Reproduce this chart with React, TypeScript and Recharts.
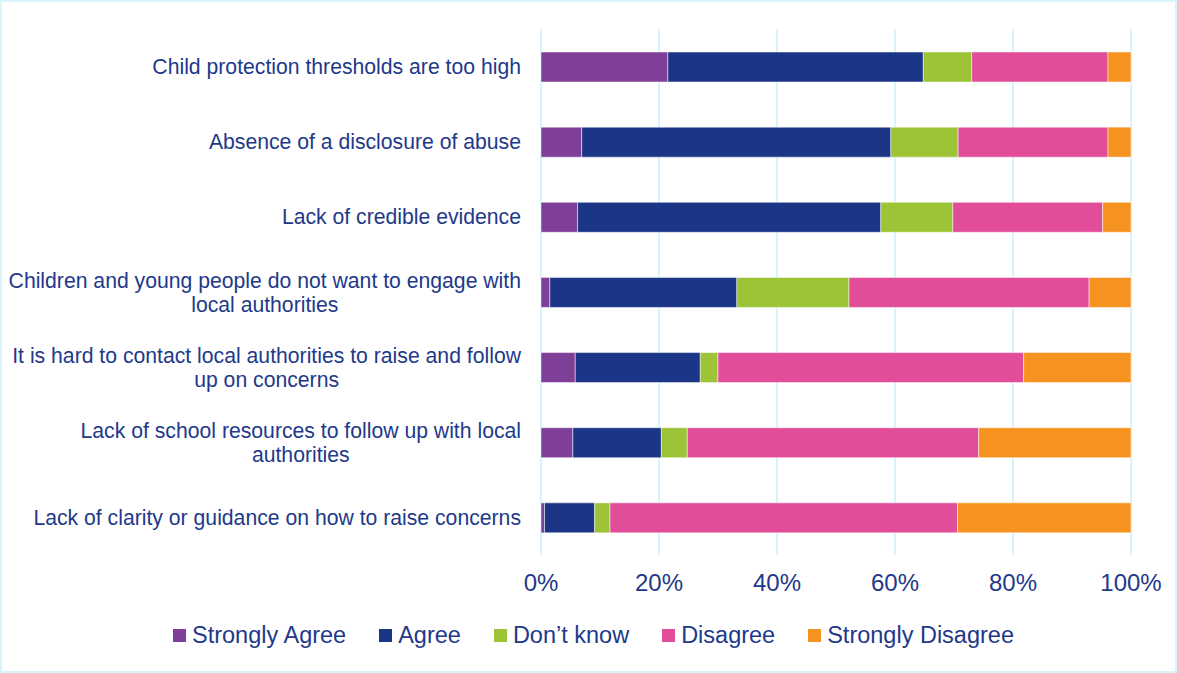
import React from 'react';
import { BarChart, Bar, XAxis, YAxis, CartesianGrid, Legend } from 'recharts';

const categories = [
  'Child protection thresholds are too high',
  'Absence of a disclosure of abuse',
  'Lack of credible evidence',
  'Children and young people do not want to engage with\nlocal authorities',
  'It is hard to contact local authorities to raise and follow\nup on concerns',
  'Lack of school resources to follow up with local\nauthorities',
  'Lack of clarity or guidance on how to raise concerns',
];

const stronglyAgree = [21.5, 6.9, 6.2, 1.5, 5.8, 5.4, 0.6];
const agree = [43.3, 52.4, 51.4, 31.7, 21.2, 15.0, 8.5];
const dontKnow = [8.2, 11.4, 12.2, 19.0, 3.0, 4.4, 2.6];
const disagree = [23.1, 25.4, 25.4, 40.7, 51.8, 49.4, 58.9];
const stronglyDisagree = [3.9, 3.9, 4.8, 7.1, 18.2, 25.8, 29.4];

const xTicks = [0, 20, 40, 60, 80, 100];

const SERIES = [
  { key: 'sa', name: 'Strongly Agree', color: '#7f3f98' },
  { key: 'a', name: 'Agree', color: '#1c3687' },
  { key: 'dk', name: 'Don\u2019t know', color: '#9dc436' },
  { key: 'd', name: 'Disagree', color: '#e24d9a' },
  { key: 'sd', name: 'Strongly Disagree', color: '#f6921f' },
];

const TEXT = '#22398a';
const FONT = "'Liberation Sans', Arial, sans-serif";
const LABEL_SIZE = 21.2;

const data = categories.map((c, i) => ({
  name: c,
  sa: stronglyAgree[i],
  a: agree[i],
  dk: dontKnow[i],
  d: disagree[i],
  sd: stronglyDisagree[i],
}));

let ctx: CanvasRenderingContext2D | null = null;
function measure(s: string) {
  if (!ctx) ctx = document.createElement('canvas').getContext('2d');
  if (!ctx) return s.length * LABEL_SIZE * 0.5;
  ctx.font = `${LABEL_SIZE}px ${FONT}`;
  return ctx.measureText(s).width;
}

// wrapped labels: block right-aligned, lines centred inside it
function CategoryTick(props: any) {
  const { x, y, payload } = props;
  const lines: string[] = String(payload.value).split('\n');
  if (lines.length === 1) {
    return (
      <text x={x} y={y} textAnchor="end" dominantBaseline="central" fill={TEXT} fontSize={LABEL_SIZE} fontFamily={FONT}>
        {lines[0]}
      </text>
    );
  }
  const w = Math.max(...lines.map(measure));
  const cx = x - w / 2;
  return (
    <text textAnchor="middle" fill={TEXT} fontSize={LABEL_SIZE} fontFamily={FONT}>
      {lines.map((l, i) => (
        <tspan key={i} x={cx} y={y + (i - (lines.length - 1) / 2) * 24} dominantBaseline="central">
          {l}
        </tspan>
      ))}
    </text>
  );
}

function LegendContent() {
  return (
    <div style={{ display: 'flex', justifyContent: 'center', alignItems: 'center', height: 28, paddingLeft: 10, fontFamily: FONT, fontSize: 23.5, color: TEXT }}>
      {SERIES.map((s, i) => (
        <div key={s.key} style={{ display: 'flex', alignItems: 'center', marginLeft: i === 0 ? 0 : 33 }}>
          <span style={{ width: 13, height: 13, background: s.color, marginRight: 6, display: 'inline-block' }} />
          <span>{s.name}</span>
        </div>
      ))}
    </div>
  );
}

export default function App() {
  return (
    <div style={{ position: 'absolute', left: 0, top: 0, width: 1177, height: 673, background: '#fff', boxShadow: 'inset 0 0 0 2px #d8f5fc' }}>
      <BarChart
        width={1177}
        height={673}
        data={data}
        layout="vertical"
        margin={{ top: 29, right: 46, bottom: 50, left: 0 }}
        barSize={30}
      >
        <CartesianGrid horizontal={false} stroke="#d5f4fc" strokeWidth={2} />
        <XAxis
          type="number"
          domain={[0, 100]}
          ticks={xTicks}
          tickFormatter={(v: number) => `${v}%`}
          axisLine={false}
          tickLine={false}
          tickSize={0}
          tickMargin={19}
          height={40}
          tick={{ fill: TEXT, fontSize: 24, fontFamily: FONT }}
          interval={0}
        />
        <YAxis
          type="category"
          dataKey="name"
          width={541}
          axisLine={false}
          tickLine={false}
          tickSize={0}
          tickMargin={20}
          tick={<CategoryTick />}
          interval={0}
        />
        <Legend
          verticalAlign="bottom"
          height={28}
          content={<LegendContent />}
          wrapperStyle={{ bottom: 24, left: 0, width: 1177 }}
        />
        {SERIES.map((s) => (
          <Bar
            key={s.key}
            dataKey={s.key}
            name={s.name}
            stackId="s"
            fill={s.color}
            stroke="#ffffff"
            strokeWidth={0.5}
            isAnimationActive={false}
          />
        ))}
      </BarChart>
    </div>
  );
}
